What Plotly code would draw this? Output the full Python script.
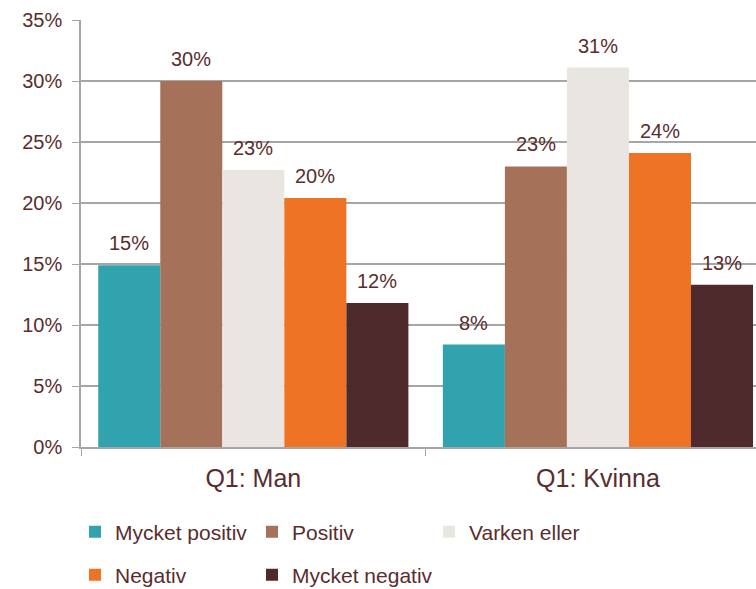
import plotly.graph_objects as go

categories = ["Q1: Man", "Q1: Kvinna"]
series_names = ["Mycket positiv", "Positiv", "Varken eller", "Negativ", "Mycket negativ"]
mycket_positiv = [14.9, 8.4]
positiv = [30.0, 23.0]
varken_eller = [22.7, 31.1]
negativ = [20.4, 24.1]
mycket_negativ = [11.8, 13.3]
colors = ["#31A3AE", "#A67159", "#E9E6E1", "#EE7325", "#4F2A2C"]
tick_vals = [0, 5, 10, 15, 20, 25, 30, 35]
tick_text = ["0%", "5%", "10%", "15%", "20%", "25%", "30%", "35%"]

series_values = [mycket_positiv, positiv, varken_eller, negativ, mycket_negativ]
TXT = "#5A2D2D"
FONT = "Liberation Sans, Arial, sans-serif"
GRID = "#A6A6A6"
BARGAP = 0.1

# legend layout: 3 columns, 2 rows (pixel positions in the 756x589 page)
legend_cols_px = [75, 252, 429]
legend_rows_px = [532, 575]

fig = go.Figure()
legend_ids = []
for i, (name, vals, col) in enumerate(zip(series_names, series_values, colors)):
    lid = "legend" if i == 0 else f"legend{i + 1}"
    legend_ids.append(lid)
    fig.add_trace(go.Bar(
        x=categories, y=vals, name=name,
        marker=dict(color=col, line=dict(width=0)),
        hoverinfo="skip",
        legend=lid, showlegend=True,
    ))

# data labels above each bar
n = len(series_names)
w = (1 - BARGAP) / n
annotations = []
for i, vals in enumerate(series_values):
    for c, v in enumerate(vals):
        annotations.append(dict(
            x=c + (i - (n - 1) / 2) * w, y=v, xref="x", yref="y",
            text=f"{round(v)}%", showarrow=False,
            yanchor="middle", xanchor="center", yshift=22,
            font=dict(size=20, color=TXT, family=FONT),
        ))

legend_common = dict(
    orientation="h", xref="container", yref="container",
    xanchor="left", yanchor="middle",
    font=dict(size=21, color=TXT, family=FONT),
    itemwidth=30, bgcolor="rgba(0,0,0,0)",
)
legends = {}
for i, lid in enumerate(legend_ids):
    col_px = legend_cols_px[i % 3]
    row_px = legend_rows_px[i // 3]
    legends[lid] = dict(x=col_px / 756, y=1 - row_px / 589, **legend_common)

fig.update_layout(
    width=756, height=589,
    showlegend=True,
    margin=dict(l=81, r=0, t=20, b=142, autoexpand=False),
    barmode="group", bargap=BARGAP, bargroupgap=0,
    paper_bgcolor="white", plot_bgcolor="white",
    font=dict(family=FONT, color=TXT),
    annotations=annotations,
    xaxis=dict(
        type="category", range=[-0.5, 1.4586], automargin=False,
        showline=True, linecolor=GRID, linewidth=1.5,
        ticks="outside", ticklen=7, tickcolor=GRID, tickson="boundaries",
        tickfont=dict(size=25, color=TXT, family=FONT),
        ticklabelstandoff=8,
        showgrid=False,
    ),
    yaxis=dict(
        range=[0, 35], tickvals=tick_vals, ticktext=tick_text, automargin=False,
        showline=True, linecolor=GRID, linewidth=1.5,
        ticks="outside", ticklen=7, tickcolor=GRID,
        tickfont=dict(size=20, color=TXT, family=FONT),
        ticklabelstandoff=6,
        showgrid=True, gridcolor=GRID, gridwidth=1.5,
        zeroline=False,
    ),
    **legends,
)

fig.write_html("out.html", config={"displayModeBar": False},
               post_script="document.body.style.margin='0';")
